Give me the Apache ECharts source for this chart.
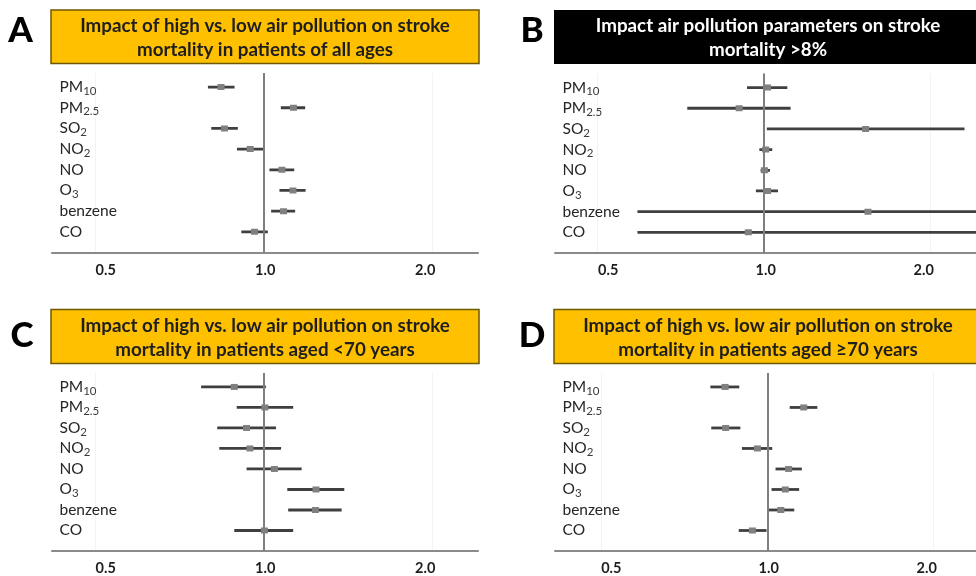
<!DOCTYPE html>
<html><head><meta charset="utf-8">
<script src="https://cdn.jsdelivr.net/npm/echarts@6/dist/echarts.min.js"></script>
<style>html,body{margin:0;padding:0;background:#fff}#c{width:976px;height:576px}</style>
</head><body><div id="c"></div><script>
// ---- data ----
const pollutants = ['PM10','PM2.5','SO2','NO2','NO','O3','benzene','CO'];
const tickValues = [0.5, 1, 2];
const tickLabels = ['0.5','1.0','2.0'];
const panelLetters = ['A','B','C','D'];
const panelTitles = [
  'Impact of high vs. low air pollution on stroke\nmortality in patients of all ages',
  'Impact air pollution parameters on stroke\nmortality >8%',
  'Impact of high vs. low air pollution on stroke\nmortality in patients aged <70 years',
  'Impact of high vs. low air pollution on stroke\nmortality in patients aged \u226570 years'
];
const estA  = [0.839,1.130,0.851,0.946,1.078,1.128,1.085,0.963];
const lowA  = [0.795,1.073,0.806,0.896,1.024,1.067,1.031,0.912];
const highA = [0.887,1.186,0.899,0.997,1.134,1.188,1.138,1.017];
const estB  = [1.014,0.901,1.525,1.006,1.001,1.014,1.540,0.936];
const lowB  = [0.931,0.726,1.011,0.980,0.985,0.966,0.590,0.590];
const highB = [1.101,1.116,2.302,1.034,1.024,1.059,3.000,3.000];
const estC  = [0.886,1.005,0.932,0.945,1.045,1.240,1.237,1.003];
const lowC  = [0.773,0.895,0.826,0.833,0.932,1.102,1.106,0.886];
const highC = [1.009,1.129,1.052,1.074,1.169,1.393,1.378,1.129];
const estD  = [0.839,1.164,0.841,0.960,1.093,1.078,1.058,0.940];
const lowD  = [0.789,1.098,0.792,0.900,1.035,1.018,1.001,0.888];
const highD = [0.890,1.232,0.894,1.021,1.155,1.142,1.119,0.997];

// ---- layout ----
const FONT = 'Lato, "Open Sans", sans-serif';
const panels = [
  {est: estA, low: lowA, high: highA, grid: {left: 52, top: 73, width: 426, height: 179.5}, xr: [0.4186, 2.4146], box: [51, 10, 428, 53.5], dark: false, letter: [20.5, 31]},
  {est: estB, low: lowB, high: highB, grid: {left: 555, top: 73.5, width: 426, height: 179.5}, xr: [0.4186, 2.4146], box: [554, 10, 428, 54], dark: true, letter: [532, 31]},
  {est: estC, low: lowC, high: highC, grid: {left: 52, top: 373, width: 426, height: 180.5}, xr: [0.4186, 2.4146], box: [51, 309.5, 428, 54], dark: false, letter: [22, 335.5]},
  {est: estD, low: lowD, high: highD, grid: {left: 555, top: 373, width: 426, height: 180.5}, xr: [0.4132, 2.385], box: [554, 309.5, 428, 54], dark: false, letter: [532, 335.5]}
];
const labelShift = {'0.5': 'l', '1.0': 'c', '2.0': 'r'};

function rowLabel(v) {
  const name = pollutants[pollutants.length - v];
  if (!name) return '';
  const m = name.match(/^([A-Za-z]+?)(\d[\d.]*)$/);
  if (m) return '{m|' + m[1] + '}{s|' + m[2] + '}';
  return '{m|' + name + '}';
}

const grids = [], xAxes = [], yAxes = [], series = [], graphics = [];
panels.forEach((p, i) => {
  grids.push(p.grid);
  xAxes.push({
    type: 'log', logBase: 2, gridIndex: i, min: p.xr[0], max: p.xr[1],
    axisLine: {show: true, lineStyle: {color: '#8a8a8a', width: 2}},
    axisTick: {show: false, customValues: tickValues},
    splitLine: {show: true, lineStyle: {color: '#f3f3f3', width: 1}},
    axisLabel: {
      customValues: tickValues, margin: 10,
      formatter: v => { const t = tickLabels[tickValues.indexOf(+v)] || (+v).toFixed(1); return '{' + (labelShift[t] || 'c') + '|' + t + '}'; },
      rich: {
        l: {fontFamily: FONT, fontWeight: 'bold', fontSize: 14.5, color: '#1e1e1e', padding: [0, 0, 0, 21]},
        c: {fontFamily: FONT, fontWeight: 'bold', fontSize: 14.5, color: '#1e1e1e', padding: [0, 0, 0, 3]},
        r: {fontFamily: FONT, fontWeight: 'bold', fontSize: 14.5, color: '#1e1e1e', padding: [0, 14, 0, 0]}
      }
    }
  });
  yAxes.push({
    type: 'value', gridIndex: i, min: 0, max: 8.68,
    axisLine: {show: false}, axisTick: {show: false}, splitLine: {show: false},
    axisLabel: {
      inside: true, margin: 7.5, customValues: [1,2,3,4,5,6,7,8],
      formatter: v => rowLabel(Math.round(v)),
      rich: {
        m: {fontFamily: FONT, fontSize: 15.5, color: '#262626'},
        s: {fontFamily: FONT, fontSize: 11.5, color: '#3a3a3a', padding: [8, 0, 0, 0]}
      }
    }
  });
  const data = pollutants.map((n, k) => [p.est[k], p.low[k], p.high[k], pollutants.length - k]);
  series.push({
    type: 'custom', xAxisIndex: i, yAxisIndex: i, clip: true,
    encode: {x: [0, 1, 2], y: 3},
    data: data,
    renderItem: (params, api) => {
      const y = api.value(3);
      const pe = api.coord([api.value(0), y]);
      const pl = api.coord([api.value(1), y]);
      const ph = api.coord([api.value(2), y]);
      return {type: 'group', children: [
        {type: 'line', shape: {x1: pl[0], y1: pl[1], x2: ph[0], y2: ph[1]}, style: {stroke: '#3f3f3f', lineWidth: 2.8}},
        {type: 'rect', shape: {x: pe[0] - 3.5, y: pe[1] - 3, width: 7, height: 6}, style: {fill: '#808080'}}
      ]};
    },
    markLine: {
      silent: true, symbol: 'none', label: {show: false}, animation: false,
      lineStyle: {color: '#7f7f7f', width: 2, type: 'solid'},
      data: [{xAxis: 1}]
    },
    z: 3
  });
  const b = p.box;
  graphics.push({
    type: 'rect', shape: {x: b[0], y: b[1], width: b[2], height: b[3]},
    style: p.dark ? {fill: '#000'} : {fill: '#ffc000', stroke: '#6e5800', lineWidth: 1.5}
  });
  graphics.push({
    type: 'text', x: b[0] + b[2] / 2, y: b[1] + b[3] / 2 + 1,
    style: {text: panelTitles[i], fill: p.dark ? '#ffffff' : '#1e1e1e', font: 'bold 18.8px ' + FONT, align: 'center', verticalAlign: 'middle', lineHeight: 24}
  });
  graphics.push({
    type: 'text', x: p.letter[0], y: p.letter[1],
    style: {text: panelLetters[i], fill: '#000', font: '900 35px ' + FONT, align: 'center', verticalAlign: 'middle'}
  });
});

const chart = echarts.init(document.getElementById('c'), null, {renderer: 'canvas'});
chart.setOption({
  animation: false,
  backgroundColor: '#ffffff',
  grid: grids, xAxis: xAxes, yAxis: yAxes, series: series,
  graphic: graphics
});
</script></body></html>
